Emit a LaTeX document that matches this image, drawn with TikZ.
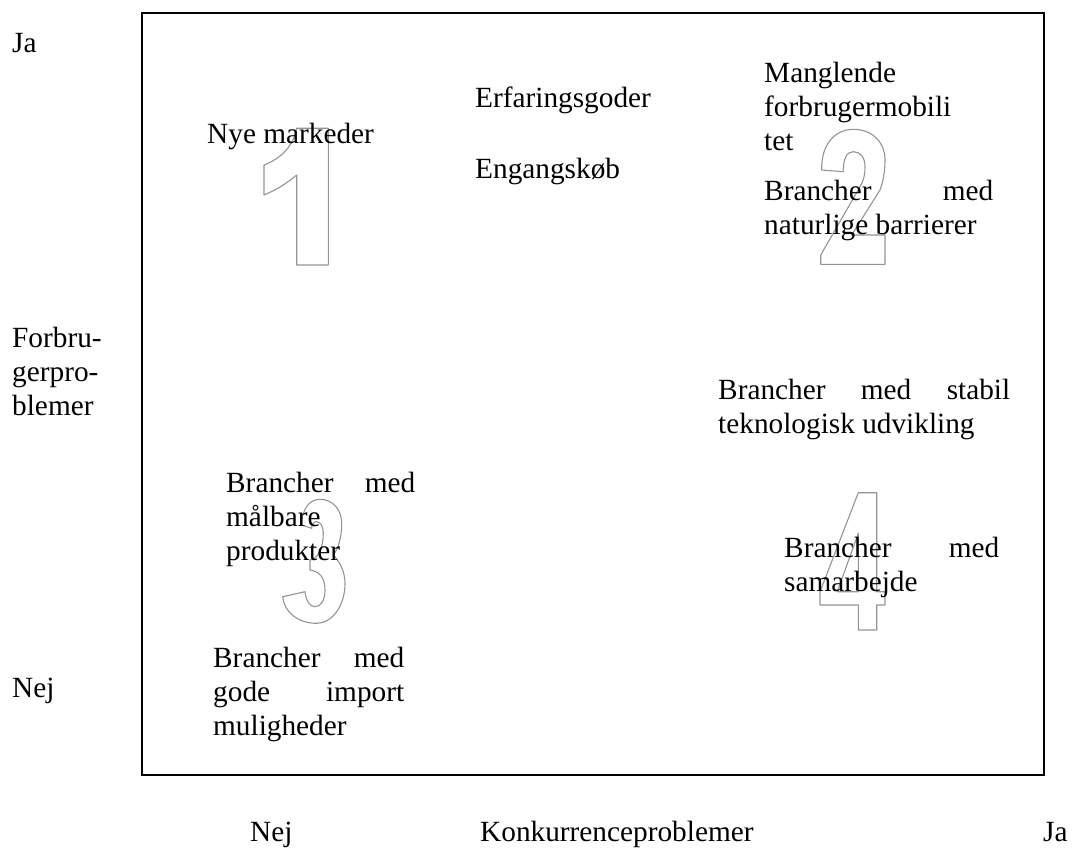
\documentclass[tikz,border=0pt]{standalone}
\usepackage{fontspec}
\setmainfont{Liberation Serif}

\tikzset{
  txt/.style={anchor=north west, yshift=23.8pt, inner sep=0pt, align=left,
    font=\fontsize{29.3}{34}\selectfont},
  numeral/.style={draw=black!42, line width=1.1pt, line join=round}
}
\newcommand{\jline}[2]{\makebox[#1pt][s]{#2}}

\begin{document}
\begin{tikzpicture}[x=1pt,y=-1pt]
    \useasboundingbox (0,0) rectangle (1073,848);

    % outlined quadrant numbers
    \draw [numeral] (296.7,128.3) -- (328.3,128.3) -- (328.3,265) -- (296.7,265) -- (296.7,175)
      .. controls (286,184) and (276,190) .. (264,195) -- (264,165)
      .. controls (282,158) and (293,146) .. cycle;
    \draw [numeral] (821.7,170) .. controls (821,142) and (837,129.3) .. (853.3,129.3)
      .. controls (872,129.3) and (885,142) .. (885,160)
      .. controls (885,172) and (883,182) .. (880,190) -- (851.7,235) -- (885,235)
      -- (885,264.3) -- (820.7,264.3) -- (820.7,255) -- (860,186.7)
      .. controls (864,180) and (865,174) .. (865,166.7)
      .. controls (865,157) and (860,151.7) .. (853.3,151.7)
      .. controls (847,151.7) and (843.3,158) .. (843.3,171.7) -- cycle;
    \draw [numeral] (301.7,525) .. controls (302,508) and (310,499.3) .. (320,499.3)
      .. controls (333,499.3) and (341.7,510) .. (341.7,523.3)
      .. controls (341.7,538) and (338,549) .. (333.3,555)
      .. controls (340,562) and (345,572) .. (345,583.3)
      .. controls (345,606) and (332,623.3) .. (316.7,623.3)
      .. controls (298,623.3) and (284,612) .. (282.7,596.7) -- (305,591.7)
      .. controls (306,601) and (310,606.7) .. (315,606.7)
      .. controls (321,606.7) and (325,600) .. (325,590)
      .. controls (325,578) and (320,571.7) .. (310,570) -- (310,560)
      .. controls (318,559) and (323.3,548) .. (323.3,533)
      .. controls (323.3,526) and (320,521.7) .. (316.7,521.7)
      .. controls (313,521.7) and (311.7,525) .. (311.7,528.3) -- cycle;
    \draw [numeral] (858.3,492.7) -- (876.7,492.7) -- (876.7,591.7) -- (885,591.7) -- (885,605)
      -- (876.7,605) -- (876.7,630) -- (858.3,630) -- (858.3,605) -- (820,605) -- (820,591.7) -- cycle;
    \draw [numeral] (858.3,533.3) -- (858.3,591.7) -- (837.3,591.7) -- cycle;

    % frame
    \draw [line width=2pt] (142,13) rectangle (1044,775);

    % axis texts
    \node [txt] (ja-y) at (12,52) {\strut Ja};
    \node [txt] (forbrug) at (12,347) {\strut Forbru-\\gerpro-\\blemer};
    \node [txt] (nej-y) at (12,697) {\strut Nej};
    \node [txt] (nej-x) at (250,841) {\strut Nej};
    \node [txt] (konkurrence) at (480,841) {\strut Konkurrenceproblemer};
    \node [txt] (ja-x) at (1043,841) {\strut Ja};

    % quadrant texts
    \node [txt] (nye) at (207,143) {\strut Nye markeder};
    \node [txt] (erfaring) at (475,107) {\strut Erfaringsgoder};
    \node [txt] (engang) at (475,178) {\strut Engangskøb};
    \node [txt] (mangl) at (764,82) {\strut Manglende\\forbrugermobili\\tet};
    \node [txt] (natur) at (764,200) {\strut\jline{229}{Brancher med}\\naturlige barrierer};
    \node [txt] (stabil) at (718,399) {\strut\jline{292}{Brancher med stabil}\\teknologisk udvikling};
    \node [txt] (maalbar) at (226,492) {\strut\jline{189}{Brancher med}\\målbare\\produkter};
    \node [txt] (samarb) at (784,557) {\strut\jline{215}{Brancher med}\\samarbejde};
    \node [txt] (import) at (213,667) {\strut\jline{191}{Brancher med}\\\jline{191}{gode import}\\muligheder};
\end{tikzpicture}
\end{document}
